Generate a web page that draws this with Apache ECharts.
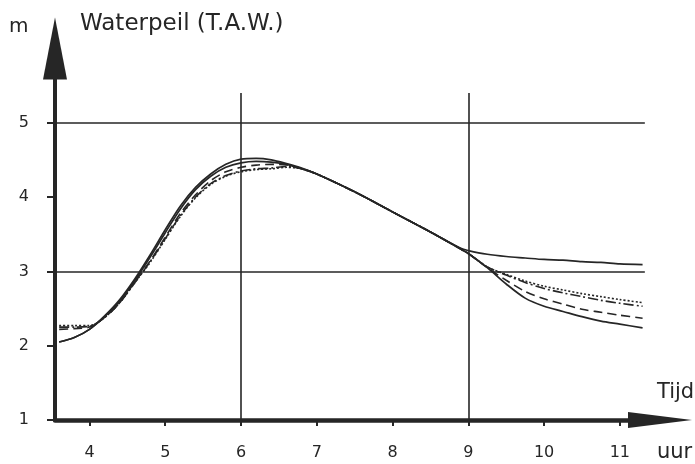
<!DOCTYPE html>
<html>
<head>
<meta charset="utf-8">
<script src="https://cdn.jsdelivr.net/npm/echarts@6/dist/echarts.min.js"></script>
<style>
html,body{margin:0;padding:0;background:#fff;}
#chart{width:695px;height:464px;}
</style>
</head>
<body>
<div id="chart"></div>
<script>
// ---- data ----
var times = [3.6,3.8,4.0,4.2,4.4,4.6,4.8,5.0,5.2,5.4,5.6,5.8,6.0,6.2,6.4,6.6,6.8,7.0,7.5,8.0,8.5,8.9,9.0,9.25,9.5,9.75,10.0,10.25,10.5,10.75,11.0,11.3];
var solidLow  = [2.05,2.11,2.22,2.40,2.62,2.90,3.22,3.56,3.88,4.13,4.31,4.44,4.51,4.52,4.50,4.45,4.39,4.31,4.07,3.80,3.53,3.30,3.24,3.05,2.83,2.64,2.53,2.46,2.39,2.33,2.29,2.24];
var solidHigh = [2.05,2.11,2.22,2.39,2.60,2.88,3.19,3.52,3.84,4.10,4.28,4.40,4.46,4.48,4.47,4.44,4.38,4.31,4.07,3.80,3.53,3.31,3.28,3.23,3.20,3.18,3.16,3.15,3.13,3.12,3.10,3.09];
var dashed    = [2.22,2.23,2.25,2.38,2.58,2.86,3.14,3.46,3.78,4.03,4.22,4.34,4.40,4.43,4.44,4.43,4.38,4.31,4.07,3.80,3.53,3.30,3.24,3.05,2.88,2.73,2.63,2.56,2.49,2.45,2.41,2.37];
var dashDot   = [2.25,2.25,2.26,2.38,2.58,2.85,3.13,3.44,3.75,4.00,4.18,4.29,4.35,4.38,4.39,4.41,4.38,4.31,4.07,3.80,3.53,3.30,3.24,3.06,2.95,2.85,2.77,2.71,2.66,2.61,2.57,2.53];
var dotted    = [2.27,2.27,2.27,2.38,2.58,2.85,3.12,3.43,3.74,3.99,4.17,4.28,4.34,4.37,4.38,4.40,4.38,4.31,4.07,3.80,3.53,3.30,3.24,3.06,2.96,2.87,2.80,2.75,2.70,2.66,2.62,2.58];
var xTicks = [4,5,6,7,8,9,10,11];
var yTicks = [1,2,3,4,5];
var refLevels = [3,5];
var refTimes = [6,9];

// ---- chart ----
var ink = '#262626';
var font = 'DejaVu Sans';
function pairs(ys){ return times.map(function(t,i){ return [t, ys[i]]; }); }

var xMin = 3.545, xMax = 11.53, yMin = 1, yMax = 6, gridEnd = 11.33, vTop = 5.4;
var refLines = [];
refLevels.forEach(function(v){ refLines.push([{coord:[xMin, v]},{coord:[gridEnd, v]}]); });
refTimes.forEach(function(t){ refLines.push([{coord:[t, yMin]},{coord:[t, vTop]}]); });

function line(name, ys, type, width){
  return {
    name: name, type: 'line', data: pairs(ys), showSymbol: false, symbol: 'none',
    smooth: 0.3,
    lineStyle: {color: ink, width: width || 1.6, type: type},
    z: 3, silent: true
  };
}

var series = [
  line('A', solidLow, 'solid', 1.7),
  line('B', solidHigh, 'solid', 1.7),
  line('C', dashed, [9,5], 1.6),
  line('D', dashDot, [10,3,2,3], 1.6),
  line('E', dotted, [2,2], 1.6)
];
series[0].markLine = {
  silent: true, symbol: ['none','none'], label: {show:false},
  lineStyle: {color: ink, width: 1.6, type: 'solid'},
  data: refLines, animation: false
};

var chart = echarts.init(document.getElementById('chart'), null, {renderer:'canvas'});
chart.setOption({
  animation: false,
  backgroundColor: '#fff',
  grid: {left: 55, right: 35, top: 48.4, bottom: 44},
  xAxis: {
    type: 'value', min: xMin, max: xMax,
    axisLine: {show: true, lineStyle: {color: ink, width: 4.5}, symbol: ['none','triangle'], symbolSize: [16, 64]},
    axisTick: {show: true, customValues: xTicks, length: 6, lineStyle: {color: ink, width: 2}},
    axisLabel: {customValues: xTicks, margin: 25, color: ink, fontFamily: font, fontSize: 16},
    splitLine: {show: false}
  },
  yAxis: {
    type: 'value', min: yMin, max: yMax,
    axisLine: {show: true, lineStyle: {color: ink, width: 4}, symbol: ['none','triangle'], symbolSize: [24, 62]},
    axisTick: {show: true, customValues: yTicks, length: 8, lineStyle: {color: ink, width: 2}},
    axisLabel: {customValues: yTicks, margin: 26, color: ink, fontFamily: font, fontSize: 16},
    splitLine: {show: false}
  },
  graphic: [
    {type:'text', left: 9, top: 17, style:{text:'m', fill: ink, font: '20px "DejaVu Sans"'}},
    {type:'text', left: 80, top: 13, style:{text:'Waterpeil (T.A.W.)', fill: ink, font: '23px "DejaVu Sans"'}},
    {type:'text', left: 657, top: 382, style:{text:'Tijd', fill: ink, font: '21px "DejaVu Sans"'}},
    {type:'text', left: 657, top: 442, style:{text:'uur', fill: ink, font: '21px "DejaVu Sans"'}}
  ],
  series: series
});
</script>
</body>
</html>
